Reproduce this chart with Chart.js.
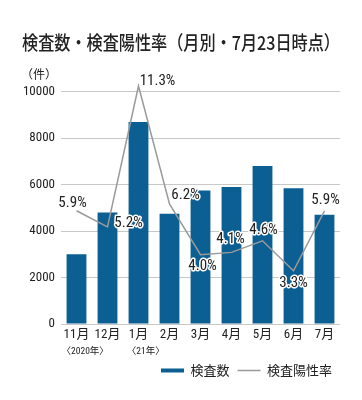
<!DOCTYPE html>
<html lang="ja">
<head>
<meta charset="utf-8">
<script src="https://cdn.jsdelivr.net/npm/chart.js@4.4.1/dist/chart.umd.min.js"></script>
<style>
  html, body { margin: 0; padding: 0; background: #fff; }
  #wrap { width: 362px; height: 400px; }
</style>
</head>
<body>
<div id="wrap"><canvas id="chart"></canvas></div>
<script>
const months = ["11月", "12月", "1月", "2月", "3月", "4月", "5月", "6月", "7月"];
const yearNotes = ["〈2020年〉", "", "〈21年〉", "", "", "", "", "", ""];
const testCounts = [3000, 4800, 8700, 4750, 5750, 5900, 6800, 5850, 4700];
const positiveRates = [5.9, 5.2, 11.3, 6.2, 4.0, 4.1, 4.6, 3.3, 5.9];
const yTicks = [0, 2000, 4000, 6000, 8000, 10000];

// where each rate label sits relative to its point (dx, dy)
const rateLabelOffsets = [[-4, -8], [21, -4], [19, -5], [16, -9], [2, 12], [-1, -13], [1, -11], [0, 12], [1, -11]];

const NARROW = "'Roboto Condensed', 'Noto Sans CJK JP', sans-serif";
const JP = "'Noto Sans CJK JP', sans-serif";

const extras = {
    id: "extras",
    afterDatasetsDraw(chart) {
        const ctx = chart.ctx;
        const meta = chart.getDatasetMeta(1);
        ctx.save();
        ctx.font = "15px " + NARROW;
        ctx.textAlign = "center";
        ctx.textBaseline = "middle";
        ctx.lineJoin = "round";
        meta.data.forEach((pt, i) => {
            const [dx, dy] = rateLabelOffsets[i];
            const txt = positiveRates[i].toFixed(1) + "%";
            ctx.strokeStyle = "#fff";
            ctx.lineWidth = 3;
            ctx.strokeText(txt, pt.x + dx, pt.y + dy);
            ctx.fillStyle = "#222";
            ctx.fillText(txt, pt.x + dx, pt.y + dy);
        });
        ctx.restore();
    },
    afterDraw(chart) {
        const ctx = chart.ctx;
        const x = chart.scales.x;
        const y = chart.scales.y;
        ctx.save();
        ctx.fillStyle = "#222";
        // unit label above the y axis
        ctx.font = "12px " + JP;
        ctx.textAlign = "right";
        ctx.textBaseline = "middle";
        ctx.fillText("（件）", y.right - 4, chart.chartArea.top - 17);
        // year notes under month labels
        ctx.textAlign = "left";
        months.forEach((m, i) => {
            if (!yearNotes[i]) return;
            ctx.font = "13px " + NARROW;
            const w = ctx.measureText(m).width;
            ctx.font = "9.5px " + NARROW;
            ctx.fillText(yearNotes[i], x.getPixelForValue(i) - w / 2 - 2, x.top + 28);
        });
        ctx.restore();
    }
};

new Chart(document.getElementById("chart"), {
    type: "bar",
    data: {
        labels: months,
        datasets: [
            {
                type: "bar",
                label: "検査数",
                data: testCounts,
                backgroundColor: "#0b5f92",
                borderWidth: 0,
                categoryPercentage: 1,
                barPercentage: 0.64,
                pointStyle: "rect",
                yAxisID: "y",
                order: 1
            },
            {
                type: "line",
                label: "検査陽性率",
                data: positiveRates,
                borderColor: "#9a9a9a",
                backgroundColor: "#9a9a9a",
                borderWidth: 1.5,
                pointRadius: 0,
                pointStyle: "line",
                tension: 0,
                clip: false,
                yAxisID: "y2",
                order: 0
            }
        ]
    },
    options: {
        responsive: true,
        maintainAspectRatio: false,
        animation: false,
        layout: { padding: { left: 22, right: 22, top: 0, bottom: 13 } },
        plugins: {
            tooltip: { enabled: false },
            title: {
                display: true,
                text: "検査数・検査陽性率（月別・7月23日時点）",
                align: "start",
                color: "#222",
                font: { family: JP, size: 19, weight: "500" },
                padding: { top: 31, bottom: 38 }
            },
            legend: {
                position: "bottom",
                align: "end",
                labels: {
                    sort: (a, b) => a.datasetIndex - b.datasetIndex,
                    usePointStyle: true,
                    pointStyleWidth: 23,
                    boxHeight: 4,
                    padding: 8,
                    color: "#222",
                    font: { family: JP, size: 13 }
                }
            }
        },
        scales: {
            x: {
                grid: { display: false, drawTicks: false },
                border: { display: false },
                ticks: {
                    color: "#222",
                    padding: 3,
                    maxRotation: 0,
                    autoSkip: false,
                    font: { family: NARROW, size: 13 }
                },
                afterFit: s => { s.height = 32; }
            },
            y: {
                min: 0,
                max: 10000,
                afterBuildTicks: s => { s.ticks = yTicks.map(v => ({ value: v })); },
                grid: { color: "#c8c8c8", lineWidth: 1, drawTicks: false },
                border: { display: false },
                ticks: {
                    color: "#222",
                    padding: 6,
                    font: { family: NARROW, size: 13 },
                    callback: v => String(v)
                },
                afterFit: s => { s.width = 39; }
            },
            y2: {
                display: false,
                min: 1,
                max: 11.05
            }
        }
    },
    plugins: [extras]
});
</script>
</body>
</html>
